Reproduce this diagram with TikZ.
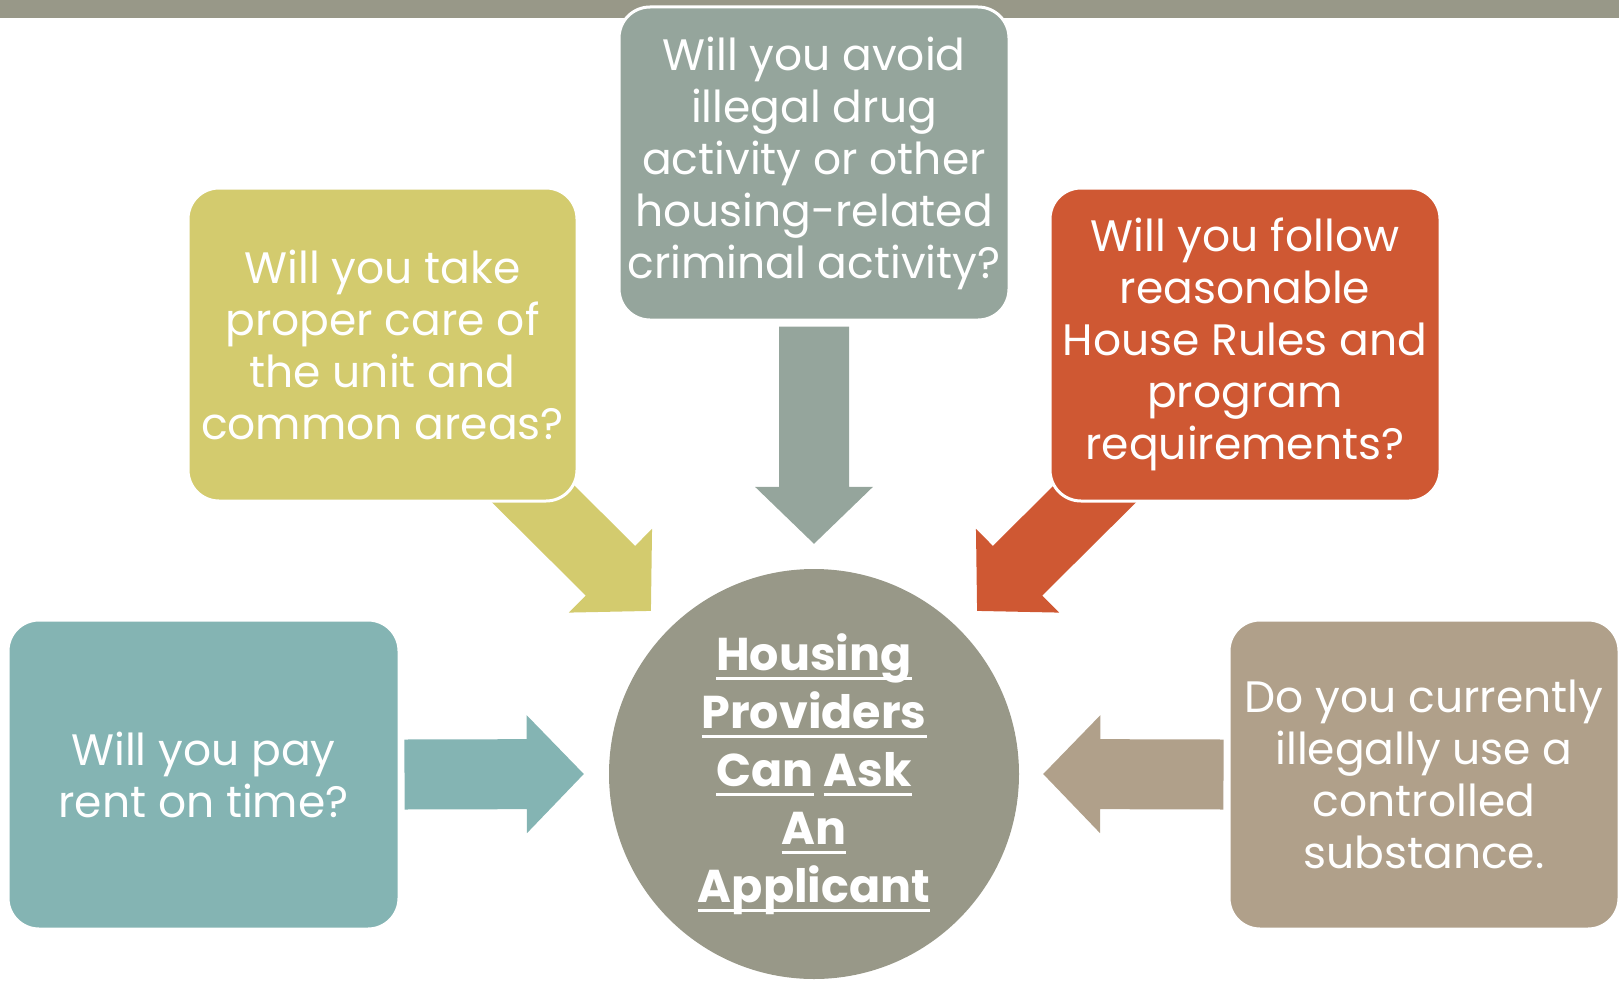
\documentclass[tikz,border=0pt]{standalone}
\usepackage{fontspec}
\setmainfont{Poppins}
\usetikzlibrary{calc}
\definecolor{barcol}{HTML}{989888}
\definecolor{crimecol}{HTML}{95A59C}
\definecolor{carecol}{HTML}{D3CB6E}
\definecolor{rulescol}{HTML}{CF5833}
\definecolor{rentcol}{HTML}{84B4B3}
\definecolor{drugscol}{HTML}{B0A08A}
\pgfdeclarelayer{background}
\pgfsetlayers{background,main}
\newcommand\ulword[1]{\setbox0\hbox{#1}\rlap{\rule[-10pt]{\wd0}{3pt}}\box0\relax}
\tikzset{
    qbox/.style={draw=white, line width=3pt, rounded corners=31pt, text=white,
        align=center, font=\fontsize{44}{52}\selectfont, inner sep=0pt},
    fat/.style={to path={
        ($(\tikztostart)!35pt!-90:(\tikztotarget)$) --
        ($(\tikztotarget)!57pt!(\tikztostart)!35pt!90:(\tikztostart)$) --
        ($(\tikztotarget)!57pt!(\tikztostart)!59pt!90:(\tikztostart)$) --
        (\tikztotarget) --
        ($(\tikztotarget)!57pt!(\tikztostart)!59pt!-90:(\tikztostart)$) --
        ($(\tikztotarget)!57pt!(\tikztostart)!35pt!-90:(\tikztostart)$) --
        ($(\tikztostart)!35pt!90:(\tikztotarget)$) -- cycle}}
}
\begin{document}
\begin{tikzpicture}[x=1pt, y=-1pt]
    \useasboundingbox (0,0) rectangle (1619,982);
    \fill[barcol] (0,0) rectangle (1619,18);
    % question boxes
    \node[qbox, fill=crimecol, minimum width=390pt, minimum height=313pt] (crime) at (814,163.5)
        {Will you avoid\\illegal drug\\activity or other\\housing-related\\criminal activity?};
    \node[qbox, fill=carecol, minimum width=389pt, minimum height=313pt] (care) at (382.5,344.5)
        {Will you take\\proper care of\\the unit and\\common areas?};
    \node[qbox, fill=rulescol, minimum width=390pt, minimum height=313pt] (rules) at (1245,344.5)
        {Will you follow\\reasonable\\House Rules and\\program\\requirements?};
    \node[qbox, fill=rentcol, minimum width=391pt, minimum height=309pt] (rent) at (203.5,774.5)
        {Will you pay\\rent on time?};
    \node[qbox, fill=drugscol, minimum width=390pt, minimum height=309pt] (drugs) at (1424,774.5)
        {Do you currently\\illegally use a\\controlled\\substance.};
    % centre
    \node[circle, fill=barcol, minimum size=410pt, inner sep=0pt, text=white, align=center,
        font=\fontsize{46}{58}\selectfont\bfseries] (hub) at (814,774)
        {\ulword{Housing}\\\ulword{Providers}\\\ulword{Can} \ulword{Ask}\\\ulword{An}\\\ulword{Applicant}};
    % block arrows
    \begin{pgfonlayer}{background}
        \fill[crimecol] ([yshift=-5pt]crime.south) to[fat] ([yshift=25pt]hub.north);
        \fill[carecol] ([xshift=-77pt,yshift=40pt]care.south east) to[fat] ([xshift=-18pt,yshift=18pt]hub.north west);
        \fill[rulescol] ([xshift=78pt,yshift=40pt]rules.south west) to[fat] ([xshift=18pt,yshift=18pt]hub.north east);
        \fill[rentcol] ([xshift=4pt]rent.east) to[fat] ([xshift=-25pt]hub.west);
        \fill[drugscol] ([xshift=-4pt]drugs.west) to[fat] ([xshift=24pt]hub.east);
    \end{pgfonlayer}
\end{tikzpicture}
\end{document}
